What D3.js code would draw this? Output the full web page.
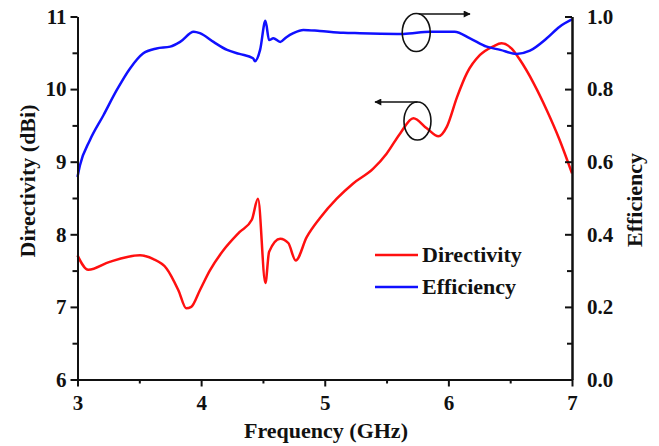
<!DOCTYPE html>
<html>
<head>
<meta charset="utf-8">
<script src="https://cdn.jsdelivr.net/npm/d3@7"></script>
<style>
  body { margin: 0; background: #fff; }
  text { font-family: "Liberation Serif", "Times New Roman", serif; font-weight: bold; fill: #111; }
</style>
</head>
<body>
<div id="chart"></div>
<script>
// frequency (GHz) / directivity (dBi)
var dirFreq = [3.0, 3.087, 3.26, 3.506, 3.61, 3.72, 3.816, 3.88, 3.92, 3.99, 4.07, 4.18, 4.31, 4.41, 4.46,
  4.52, 4.55, 4.64, 4.705, 4.765, 4.854, 4.96, 5.097, 5.23, 5.39, 5.50, 5.61, 5.717, 5.825, 5.92, 5.987,
  6.07, 6.15, 6.256, 6.364, 6.43, 6.51, 6.58, 6.69, 6.796, 6.90, 7.0];
var dirVals = [7.71, 7.51, 7.62, 7.71, 7.66, 7.53, 7.23, 6.98, 7.0, 7.23, 7.50, 7.78, 8.03, 8.20, 8.49,
  7.33, 7.76, 7.94, 7.88, 7.64, 7.96, 8.22, 8.49, 8.70, 8.90, 9.11, 9.39, 9.60, 9.46, 9.35, 9.48,
  9.89, 10.22, 10.47, 10.59, 10.63, 10.56, 10.40, 10.08, 9.71, 9.30, 8.84];

// frequency (GHz) / efficiency
var effFreq = [3.0, 3.02, 3.10, 3.21, 3.317, 3.425, 3.53, 3.64, 3.75, 3.83, 3.94, 3.99, 4.10, 4.21, 4.31,
  4.42, 4.436, 4.477, 4.52, 4.55, 4.584, 4.64, 4.69, 4.746, 4.827, 4.96, 5.15, 5.285, 5.636, 5.852,
  6.05, 6.175, 6.31, 6.42, 6.55, 6.66, 6.796, 6.90, 7.0];
var effVals = [0.558, 0.59, 0.659, 0.728, 0.797, 0.857, 0.898, 0.912, 0.917, 0.93, 0.958, 0.954, 0.93, 0.908, 0.897,
  0.885, 0.877, 0.908, 0.988, 0.935, 0.94, 0.93, 0.943, 0.954, 0.963, 0.96, 0.955, 0.954, 0.952, 0.958,
  0.958, 0.94, 0.917, 0.908, 0.897, 0.906, 0.94, 0.972, 0.992];

var xTicks = [3, 4, 5, 6, 7];
var leftTicks = [6, 7, 8, 9, 10, 11];
var rightTicks = [0, 0.2, 0.4, 0.6, 0.8, 1.0];
var seriesNames = ["Directivity", "Efficiency"];

function init() {
  var w = 659;
  var h = 446;
  var left = 77.5, right = 572, top = 16.5, bottom = 379.5;

  var svg = d3.select("#chart").append("svg")
    .attr("width", w)
    .attr("height", h);

  var xScale = d3.scaleLinear().domain([3, 7]).range([left, right]);
  var yLeft = d3.scaleLinear().domain([6, 11]).range([bottom, top]);
  var yRight = d3.scaleLinear().domain([0, 1]).range([bottom, top]);

  var dirData = dirFreq.map(function(f, i) { return [f, dirVals[i]]; });
  var effData = effFreq.map(function(f, i) { return [f, effVals[i]]; });

  var dirLine = d3.line()
    .x(function(d) { return xScale(d[0]); })
    .y(function(d) { return yLeft(d[1]); })
    .curve(d3.curveMonotoneX);
  var effLine = d3.line()
    .x(function(d) { return xScale(d[0]); })
    .y(function(d) { return yRight(d[1]); })
    .curve(d3.curveMonotoneX);

  svg.append("path").datum(dirData)
    .attr("d", dirLine)
    .attr("fill", "none")
    .attr("stroke", "#ff1010")
    .attr("stroke-width", 2.5);
  svg.append("path").datum(effData)
    .attr("d", effLine)
    .attr("fill", "none")
    .attr("stroke", "#1010ff")
    .attr("stroke-width", 2.5);

  // axes (major ticks with labels, minor ticks without)
  function styleAxis(g) {
    g.select(".domain").attr("stroke", "#111").attr("stroke-width", 2);
    g.selectAll(".tick line").attr("stroke", "#111").attr("stroke-width", 2);
    g.selectAll("text").attr("font-size", 21).attr("fill", "#111")
      .attr("font-family", "Liberation Serif, Times New Roman, serif").attr("font-weight", "bold");
  }

  var xAxis = d3.axisBottom(xScale).tickValues(xTicks).tickFormat(d3.format("d"))
    .tickSize(7).tickSizeOuter(0).tickPadding(9);
  var xMinor = d3.axisBottom(xScale).tickValues([3.5, 4.5, 5.5, 6.5])
    .tickSize(4).tickSizeOuter(0).tickFormat("");
  svg.append("g").attr("transform", "translate(0," + bottom + ")").call(xMinor).call(styleAxis);
  svg.append("g").attr("transform", "translate(0," + bottom + ")").call(xAxis).call(styleAxis);

  var lAxis = d3.axisLeft(yLeft).tickValues(leftTicks).tickFormat(d3.format("d"))
    .tickSize(7).tickSizeOuter(0).tickPadding(4);
  var lMinor = d3.axisLeft(yLeft).tickValues([6.5, 7.5, 8.5, 9.5, 10.5])
    .tickSize(5).tickSizeOuter(0).tickFormat("");
  svg.append("g").attr("transform", "translate(" + left + ",0)").call(lMinor).call(styleAxis);
  svg.append("g").attr("transform", "translate(" + left + ",0)").call(lAxis).call(styleAxis);

  var rAxis = d3.axisRight(yRight).tickValues(rightTicks).tickFormat(d3.format(".1f"))
    .tickSizeInner(-7).tickSizeOuter(0).tickPadding(15);
  var rMinor = d3.axisRight(yRight).tickValues([0.1, 0.3, 0.5, 0.7, 0.9])
    .tickSizeInner(-5).tickSizeOuter(0).tickFormat("");
  svg.append("g").attr("transform", "translate(" + right + ",0)").call(rMinor).call(styleAxis);
  svg.append("g").attr("transform", "translate(" + right + ",0)").call(rAxis).call(styleAxis);

  // axis titles
  svg.append("text")
    .attr("x", 326).attr("y", 438)
    .attr("text-anchor", "middle")
    .attr("font-size", 22)
    .text("Frequency (GHz)");
  svg.append("text")
    .attr("transform", "translate(35,181) rotate(-90)")
    .attr("text-anchor", "middle")
    .attr("font-size", 22)
    .text("Directivity (dBi)");
  svg.append("text")
    .attr("transform", "translate(642,200) rotate(-90)")
    .attr("text-anchor", "middle")
    .attr("font-size", 22)
    .text("Efficiency");

  // legend
  var colors = ["#ff1010", "#1010ff"];
  var legY = [255, 287];
  seriesNames.forEach(function(name, i) {
    svg.append("line")
      .attr("x1", 375).attr("x2", 418)
      .attr("y1", legY[i]).attr("y2", legY[i])
      .attr("stroke", colors[i]).attr("stroke-width", 2.5);
    svg.append("text")
      .attr("x", 422).attr("y", legY[i] + 7)
      .attr("font-size", 22)
      .text(name);
  });

  // ellipses with arrows pointing to each curve's axis
  svg.append("defs").append("marker")
    .attr("id", "arrow")
    .attr("viewBox", "0 0 10 10")
    .attr("refX", 9).attr("refY", 5)
    .attr("markerWidth", 10).attr("markerHeight", 7)
    .attr("markerUnits", "userSpaceOnUse")
    .attr("orient", "auto")
    .append("path").attr("d", "M0,0 L10,5 L0,10 Z").attr("fill", "#111");

  svg.append("ellipse")
    .attr("cx", xScale(5.74)).attr("cy", yRight(0.956))
    .attr("rx", 14).attr("ry", 19)
    .attr("fill", "none").attr("stroke", "#111").attr("stroke-width", 1.6);
  svg.append("line")
    .attr("x1", xScale(5.76)).attr("y1", 14)
    .attr("x2", 470).attr("y2", 14)
    .attr("stroke", "#111").attr("stroke-width", 1.6)
    .attr("marker-end", "url(#arrow)");

  svg.append("ellipse")
    .attr("cx", xScale(5.75)).attr("cy", yLeft(9.56))
    .attr("rx", 13.5).attr("ry", 19)
    .attr("fill", "none").attr("stroke", "#111").attr("stroke-width", 1.6);
  svg.append("line")
    .attr("x1", xScale(5.75)).attr("y1", 102)
    .attr("x2", 375).attr("y2", 102)
    .attr("stroke", "#111").attr("stroke-width", 1.6)
    .attr("marker-end", "url(#arrow)");
}

window.onload = init;
</script>
</body>
</html>
